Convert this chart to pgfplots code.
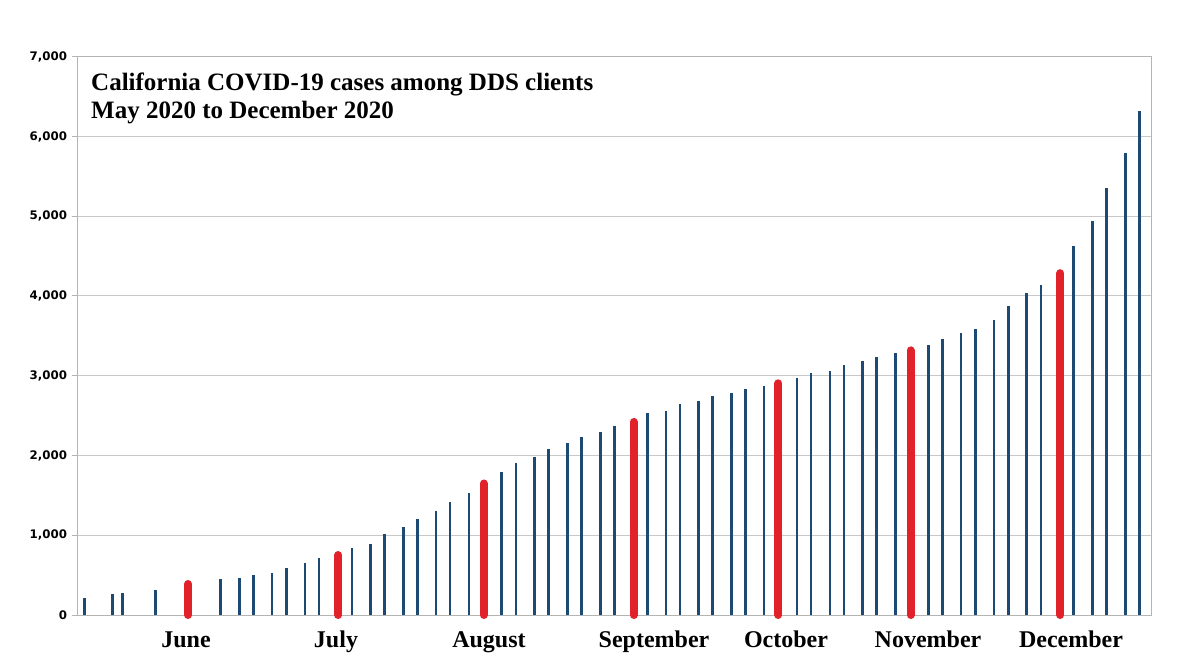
\documentclass[border=0pt]{standalone}
\usepackage{fontspec}
\setmainfont{Liberation Serif}
\newfontfamily\ticksans{DejaVu Sans}
\usepackage{pgfplots}
\pgfplotsset{compat=1.18}
\definecolor{barblue}{HTML}{1C4A72}
\definecolor{barred}{HTML}{E1222B}
\definecolor{gridgray}{HTML}{C8C8C8}
\definecolor{framegray}{HTML}{B4B4B4}

\begin{document}
\begin{tikzpicture}
\begin{axis}[
    at={(77.7pt,39pt)}, anchor=south west,
    scale only axis,
    width=1073.3pt, height=558.3pt,
    xmin=77.7, xmax=1151,
    ymin=0, ymax=7000,
    clip=false,
    axis line style={framegray, line width=1pt},
    ymajorgrids,
    grid style={gridgray, line width=1pt},
    ytick={0,1000,...,7000},
    ytick pos=left,
    tick align=outside,
    major tick length=6pt,
    ytick style={framegray, line width=1pt},
    yticklabel style={font=\ticksans\bfseries\fontsize{11.8}{12}\selectfont,
        /pgf/number format/1000 sep={,},
        /pgf/number format/assume math mode=true,
        inner sep=0pt, xshift=-4.5pt},
    xtick={186,336,489,654,786,928,1071},
    xticklabels={June,July,August,September,October,November,December},
    xtick style={draw=none},
    xticklabel style={font=\bfseries\fontsize{24}{24}\selectfont,
        anchor=base, yshift=-26pt},
]
% twice-weekly totals (x = position along the axis)
\addplot[ycomb, barblue, line width=2.7pt, mark=none] coordinates {
(84.3,217) (112.7,259) (122.3,272) (155.3,317)
(220.7,447) (239.3,468) (253.3,501) (272,522) (286.3,589) (305,648) (319,714)
(352,839) (370.3,893) (384.3,1019) (403.3,1098) (417.3,1206) (436,1303) (450,1415) (469,1528)
(501.3,1787) (516,1908) (534.7,1987) (548.7,2087) (567.3,2154) (581.3,2229) (600.3,2296) (614.3,2371)
(647.3,2530) (666,2563) (680,2642) (698.3,2684) (712.7,2742) (731.3,2784) (745.3,2839) (764,2876)
(797,2970) (811,3030) (830,3062) (844,3139) (862.7,3183) (876.7,3231) (895.3,3279)
(928.3,3385) (942.3,3460) (961,3531) (975.3,3585) (994,3702) (1008.3,3873) (1026.7,4036) (1041,4136)
(1073.7,4629) (1092.3,4937) (1106.3,5351) (1125.3,5794) (1139.3,6319)
};
% first report of each month
\addplot[ycomb, barred, line width=8pt, line cap=round, mark=none] coordinates {
(188,389) (338.3,752) (483.7,1649) (633.7,2421) (778.3,2905) (910.5,3318) (1060.3,4286)
};
\end{axis}
\node[anchor=base west, align=left, font=\bfseries\fontsize{25}{28}\selectfont,
      inner sep=0pt] at (91pt,535pt)
  {California COVID-19 cases among DDS clients\\May 2020 to December 2020};
\pgfresetboundingbox
\path (0,0) rectangle (1190pt,654pt);
\end{tikzpicture}
\end{document}
